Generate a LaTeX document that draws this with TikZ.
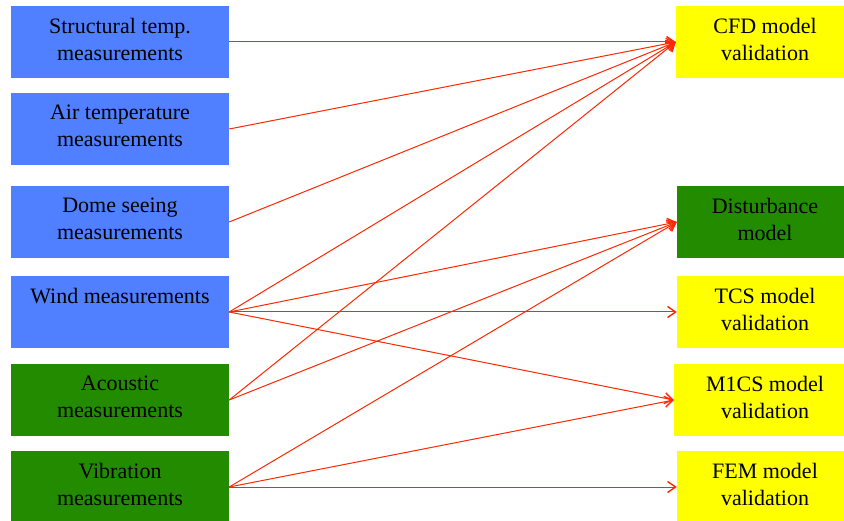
\documentclass[tikz,border=0pt]{standalone}
\usepackage{fontspec}
\setmainfont{Liberation Serif}
\usetikzlibrary{arrows.meta,calc}
\definecolor{boxblue}{RGB}{80,127,255}
\definecolor{boxgreen}{RGB}{34,139,0}
\definecolor{boxyellow}{RGB}{255,255,0}
\definecolor{arrred}{RGB}{255,40,0}
\tikzset{
  box/.style={rectangle, draw=none, inner sep=0pt, minimum height=72pt},
  lbox/.style={box, minimum width=218pt},
  rbox/.style={box, minimum width=180pt},
  txt/.style={anchor=north, inner sep=0pt, align=center, font=\fontsize{22}{27}\selectfont, text=black},
  conn/.style={draw=arrred, line width=1pt, -{Straight Barb[length=8pt,width=11pt,line width=1.4pt]}},
}
\begin{document}
\begin{tikzpicture}[x=1pt,y=-1pt]
\useasboundingbox (0,0) rectangle (844,521);
\clip (0,0) rectangle (844,521);
\fill[white] (0,0) rectangle (844,521);
% left boxes
\node[lbox, fill=boxblue] (s1) at (120,42) {};
\node[lbox, fill=boxblue] (s2) at (120,129) {};
\node[lbox, fill=boxblue] (s3) at (120,222) {};
\node[lbox, fill=boxblue] (s4) at (120,312) {};
\node[lbox, fill=boxgreen] (s5) at (120,400) {};
\node[lbox, fill=boxgreen] (s6) at (120,487) {};
% right boxes
\node[rbox, fill=boxyellow] (r1) at (766,42) {};
\node[rbox, fill=boxgreen] (r2) at (767,222) {};
\node[rbox, fill=boxyellow] (r3) at (767,312) {};
\node[rbox, fill=boxyellow] (r4) at (764,400) {};
\node[rbox, fill=boxyellow] (r5) at (767,487) {};
% texts
\node[txt] (t1) at ($(s1.north)+(0,12)$) {Structural temp.\\measurements};
\node[txt] (t2) at ($(s2.north)+(0,12)$) {Air temperature\\measurements};
\node[txt] (t3) at ($(s3.north)+(0,12)$) {Dome seeing\\measurements};
\node[txt] (t4) at ($(s4.north)+(0,12)$) {Wind measurements};
\node[txt] (t5) at ($(s5.north)+(0,12)$) {Acoustic\\measurements};
\node[txt] (t6) at ($(s6.north)+(0,12)$) {Vibration\\measurements};
\node[txt] (u1) at (765,18) {CFD model\\validation};
\node[txt] (u2) at (765,198) {Disturbance\\model};
\node[txt] (u3) at (765,288) {TCS model\\validation};
\node[txt] (u4) at (765,376) {M1CS model\\validation};
\node[txt] (u5) at (765,463) {FEM model\\validation};
% connectors
\draw[conn] (s1.east) -- (r1.west);
\draw[conn] (s2.east) -- (r1.west);
\draw[conn] (s3.east) -- (r1.west);
\draw[conn] (s4.east) -- (r1.west);
\draw[conn] (s4.east) -- (r2.west);
\draw[conn] (s4.east) -- (r3.west);
\draw[conn] (s4.east) -- (r4.west);
\draw[conn] (s5.east) -- (r1.west);
\draw[conn] (s5.east) -- (r2.west);
\draw[conn] (s6.east) -- (r2.west);
\draw[conn] (s6.east) -- (r4.west);
\draw[conn] (s6.east) -- (r5.west);
\end{tikzpicture}
\end{document}
